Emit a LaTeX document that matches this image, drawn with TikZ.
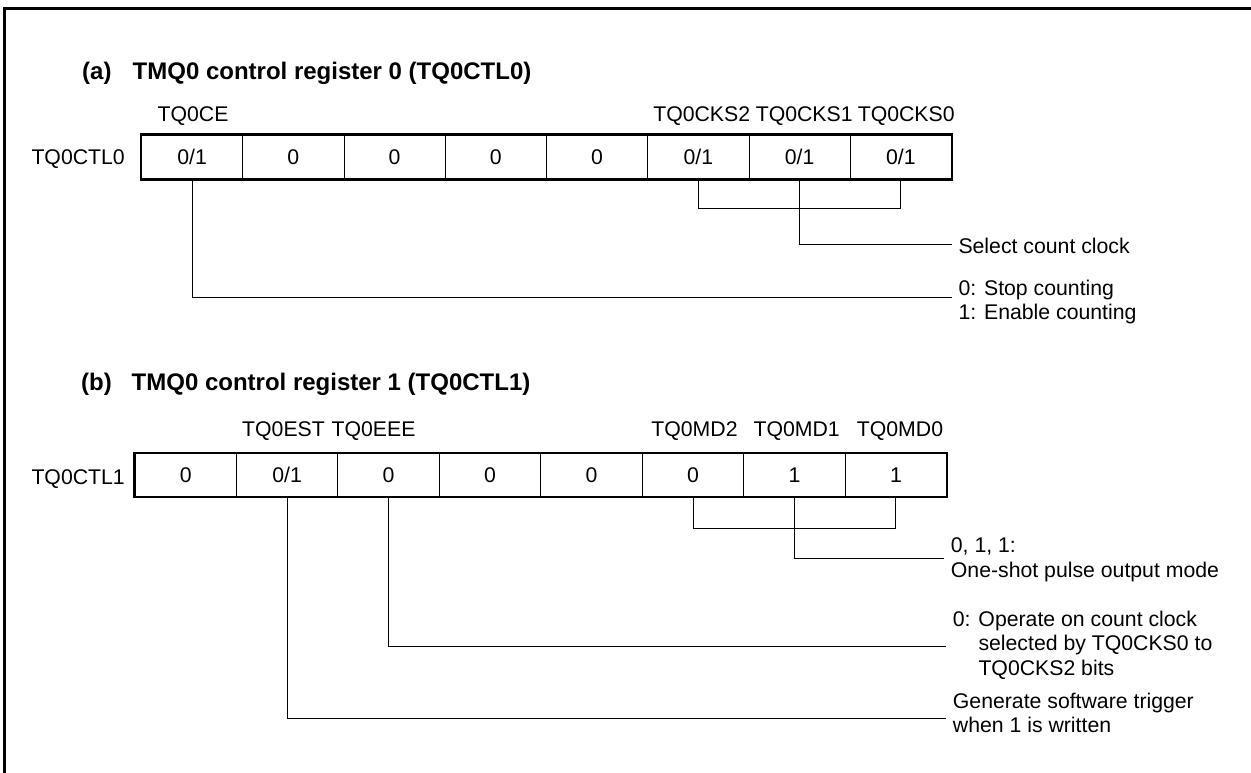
\documentclass[tikz,border=0pt]{standalone}
\usepackage{fontspec}
\setmainfont{Liberation Sans}
\begin{document}
\begin{tikzpicture}[x=1pt,y=-1pt,
  txt/.style={inner sep=0pt, font=\fontsize{21.25}{24.5}\selectfont},
  ttl/.style={inner sep=0pt, anchor=base west, font=\fontsize{24}{28}\selectfont\bfseries},
  cellA/.style={draw, line width=1pt, minimum width=101.25pt, minimum height=44pt, inner sep=0pt,
                text height=15.2pt, text depth=0pt, font=\fontsize{21.25}{24.5}\selectfont},
  cellB/.style={cellA, minimum width=101.46pt, minimum height=43pt},
  conn/.style={line width=1pt},
  outerbox/.style={line width=2.5pt},
  framestyle/.style={line width=3.5pt}]
\useasboundingbox (0,0) rectangle (1251,773);

% frame
\draw[framestyle] (4.5,773) -- (4.5,8.5) -- (1251,8.5);

% ---------- (a) ----------
\node[ttl] (titleA) at (82,80) {\makebox[50.5pt][l]{(a)}TMQ0 control register 0 (TQ0CTL0)};

\node[txt, anchor=base east] (rowA) at (125,164.3) {TQ0CTL0};
\node[cellA] (a0) at (192.125,157) {0/1};
\node[cellA] (a1) at (293.375,157) {0};
\node[cellA] (a2) at (394.625,157) {0};
\node[cellA] (a3) at (495.875,157) {0};
\node[cellA] (a4) at (597.125,157) {0};
\node[cellA] (a5) at (698.375,157) {0/1};
\node[cellA] (a6) at (799.625,157) {0/1};
\node[cellA] (a7) at (900.875,157) {0/1};
\draw[outerbox] (a0.north west) rectangle (a7.south east);

\node[txt, anchor=base] (lce)   at (193,121.5) {TQ0CE};
\node[txt, anchor=base] (lcks2) at (701.7,121.5) {TQ0CKS2};
\node[txt, anchor=base] (lcks1) at (804.2,121.5) {TQ0CKS1};
\node[txt, anchor=base] (lcks0) at (906.2,121.5) {TQ0CKS0};

\draw[conn] (a5.south) -- ++(0,29) -| (a7.south);
\coordinate (selEnd) at (952,244);
\node[txt, anchor=base west] (sel) at (958.3,253.3) {Select count clock};
\draw[conn] (a6.south) |- (selEnd);

\coordinate (ceEnd) at (952,297.3);
\node[txt, anchor=base west] (ceTxt) at (958.3,295)
  {\begin{tabular}[t]{@{}l@{}}0: Stop counting\\1: Enable counting\end{tabular}};
\draw[conn] (a0.south) |- (ceEnd);

% ---------- (b) ----------
\node[ttl] (titleB) at (81,390) {\makebox[50.5pt][l]{(b)}TMQ0 control register 1 (TQ0CTL1)};

\node[txt, anchor=base east] (rowB) at (125,484.3) {TQ0CTL1};
\node[cellB] (b0) at (185.73,475) {0};
\node[cellB] (b1) at (287.19,475) {0/1};
\node[cellB] (b2) at (388.65,475) {0};
\node[cellB] (b3) at (490.11,475) {0};
\node[cellB] (b4) at (591.57,475) {0};
\node[cellB] (b5) at (693.03,475) {0};
\node[cellB] (b6) at (794.49,475) {1};
\node[cellB] (b7) at (895.95,475) {1};
\draw[outerbox] (b0.north west) rectangle (b7.south east);

\node[txt, anchor=base] (lest) at (283.5,436.7) {TQ0EST};
\node[txt, anchor=base] (leee) at (373.5,436.7) {TQ0EEE};
\node[txt, anchor=base] (lmd2) at (694.5,436.7) {TQ0MD2};
\node[txt, anchor=base] (lmd1) at (796.7,436.7) {TQ0MD1};
\node[txt, anchor=base] (lmd0) at (900,436.7) {TQ0MD0};

\draw[conn] (b5.south) -- ++(0,31) -| (b7.south);
\coordinate (mdEnd) at (944,558.3);
\node[txt, anchor=base west] (mdTxt) at (950.7,552.7)
  {\begin{tabular}[t]{@{}l@{}}0, 1, 1:\\One-shot pulse output mode\end{tabular}};
\draw[conn] (b6.south) |- (mdEnd);

\coordinate (eeeEnd) at (945.7,646);
\node[txt, anchor=base west] (eeeTxt) at (952.7,626)
  {\begin{tabular}[t]{@{}l@{}}0: Operate on count clock\\\hphantom{0: }selected by TQ0CKS0 to\\\hphantom{0: }TQ0CKS2 bits\end{tabular}};
\draw[conn] (b2.south) |- (eeeEnd);

\coordinate (estEnd) at (945.7,718.7);
\node[txt, anchor=base west] (estTxt) at (952.7,708.3)
  {\begin{tabular}[t]{@{}l@{}}Generate software trigger\\when 1 is written\end{tabular}};
\draw[conn] (b1.south) |- (estEnd);
\end{tikzpicture}
\end{document}
